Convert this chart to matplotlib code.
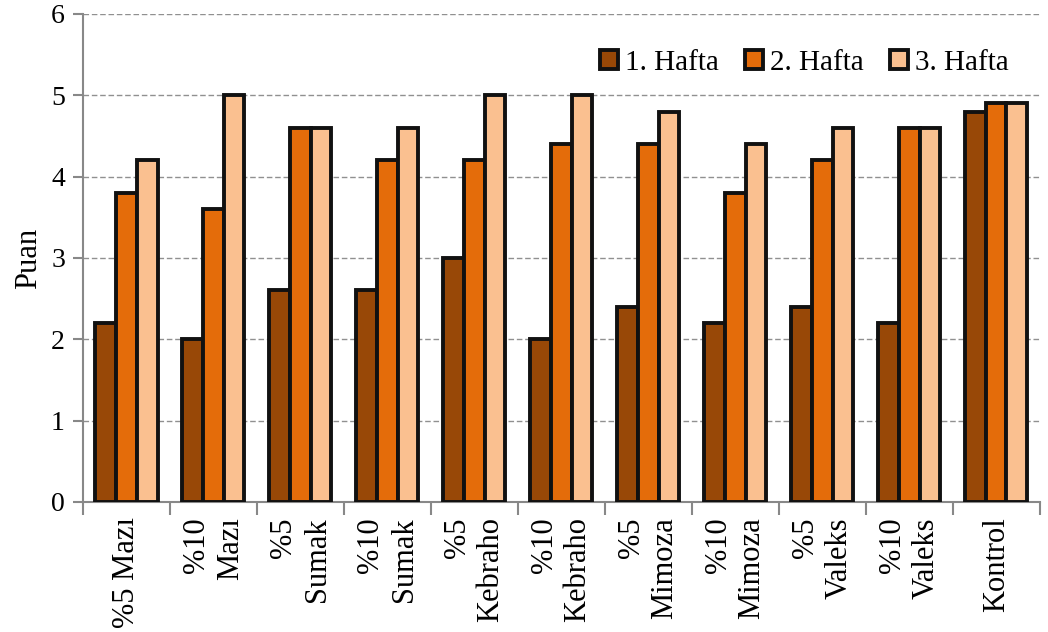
import matplotlib.pyplot as plt
import numpy as np

plt.rcParams['font.family'] = ['Liberation Serif', 'DejaVu Serif']

labels = ['%5 Mazı', '%10\nMazı', '%5\nSumak', '%10\nSumak', '%5\nKebraho',
          '%10\nKebraho', '%5\nMimoza', '%10\nMimoza', '%5\nValeks',
          '%10\nValeks', 'Kontrol']
hafta1 = [2.2, 2.0, 2.6, 2.6, 3.0, 2.0, 2.4, 2.2, 2.4, 2.2, 4.8]
hafta2 = [3.8, 3.6, 4.6, 4.2, 4.2, 4.4, 4.4, 3.8, 4.2, 4.6, 4.9]
hafta3 = [4.2, 5.0, 4.6, 4.6, 5.0, 5.0, 4.8, 4.4, 4.6, 4.6, 4.9]
series_names = ['1. Hafta', '2. Hafta', '3. Hafta']
colors = ['#984807', '#E46C0A', '#FAC090']

fig = plt.figure(figsize=(10.48, 6.32), dpi=100)
ax = fig.add_axes([0.0792, 0.2057, 0.9128, 0.7723])

x = np.arange(len(labels))
w = 0.238
for i, (vals, name, c) in enumerate(zip([hafta1, hafta2, hafta3], series_names, colors)):
    ax.bar(x + (i - 1) * w, vals, width=w, color=c, edgecolor='#111111',
           linewidth=2.8, label=name, zorder=3)

ax.set_xlim(-0.5, len(labels) - 0.5)
ax.set_ylim(0, 6)
ax.set_yticks(range(0, 7))
ax.yaxis.grid(True, linestyle=(0, (4, 2)), color='#909090', linewidth=1)
ax.set_axisbelow(True)

ax.set_xticks(x)
ax.set_xticklabels(labels, rotation=90, ha='center', va='top', multialignment='right')
ax.set_xticks(np.arange(-0.5, len(labels)), minor=True)
ax.tick_params(axis='x', which='major', length=0, pad=11, labelsize=22)
ax.tick_params(axis='x', which='minor', length=9, width=1.5, color='#888888')
ax.tick_params(axis='y', length=7, width=1.5, color='#888888', labelsize=20, pad=6)

for s in ['top', 'right']:
    ax.spines[s].set_visible(False)
for s in ['left', 'bottom']:
    ax.spines[s].set_color('#888888')
    ax.spines[s].set_linewidth(1.5)

ax.set_ylabel('Puan', fontsize=22, labelpad=6)

ax.legend(loc='upper right', bbox_to_anchor=(0.995, 0.98), ncol=3, frameon=False,
          fontsize=21, handlelength=0.6, handleheight=0.6, handletextpad=0.25,
          columnspacing=0.9)

plt.savefig('out.png', dpi=100)
